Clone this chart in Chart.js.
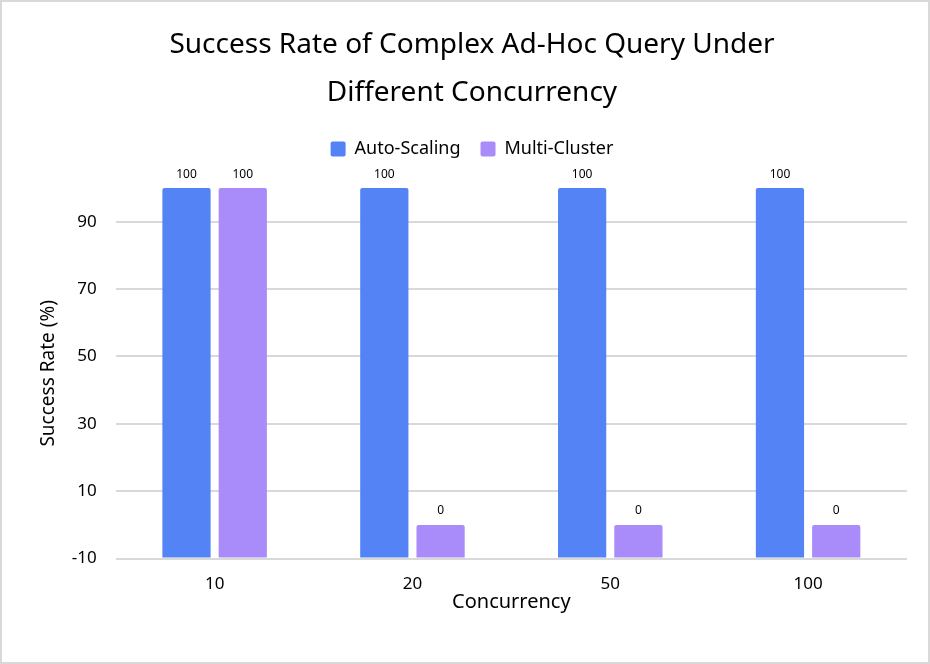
<!DOCTYPE html>
<html>
<head>
<meta charset="utf-8">
<script src="https://cdn.jsdelivr.net/npm/chart.js@4/dist/chart.umd.min.js"></script>
<style>
  html, body { margin: 0; padding: 0; background: #fff; }
  #wrap { position: absolute; left: 0; top: 0; width: 930px; height: 664px; box-sizing: border-box; border: 2px solid #d9d9d9; }
  canvas { display: block; }
</style>
</head>
<body>
<div id="wrap"><canvas id="c" width="926" height="660"></canvas></div>
<script>
const categories = ['10', '20', '50', '100'];
const autoScaling = [100, 100, 100, 100];
const multiCluster = [100, 0, 0, 0];
const seriesNames = ['Auto-Scaling', 'Multi-Cluster'];
const titleLines = ['Success Rate of Complex Ad-Hoc Query Under', 'Different Concurrency'];
const yTickValues = [-10, 10, 30, 50, 70, 90];
const yMin = -10, yMax = 100;

const FONT = '"Noto Sans", "Open Sans", sans-serif';

const labelPlugin = {
  id: 'valueLabels',
  beforeInit(chart) {
    const lg = chart.legend;
    if (lg) {
      const origFit = lg.fit;
      lg.fit = function () { origFit.call(this); this.height += 20; };
    }
  },
  afterDatasetsDraw(chart) {
    const ctx = chart.ctx;
    ctx.save();
    ctx.font = '12px ' + FONT;
    ctx.fillStyle = '#000';
    ctx.textAlign = 'center';
    ctx.textBaseline = 'bottom';
    chart.data.datasets.forEach((ds, i) => {
      chart.getDatasetMeta(i).data.forEach((bar, j) => {
        ctx.fillText(String(ds.data[j]), bar.x, bar.y - 8);
      });
    });
    ctx.restore();
  }
};

new Chart(document.getElementById('c'), {
  type: 'bar',
  data: {
    labels: categories,
    datasets: [
      { label: seriesNames[0], data: autoScaling, backgroundColor: '#5383f4', base: yMin, borderRadius: {topLeft: 2, topRight: 2}, borderSkipped: 'bottom' },
      { label: seriesNames[1], data: multiCluster, backgroundColor: '#a98cfa', base: yMin, borderRadius: {topLeft: 2, topRight: 2}, borderSkipped: 'bottom' }
    ]
  },
  options: {
    responsive: false,
    animation: false,
    layout: { padding: { left: 35, right: 21, top: 0, bottom: 48 } },
    datasets: { bar: { categoryPercentage: 0.569, barPercentage: 0.857 } },
    plugins: {
      title: {
        display: true,
        text: titleLines,
        color: '#000',
        font: { family: FONT, size: 28, weight: 'normal', lineHeight: 1.68 },
        padding: { top: 20, bottom: 4 }
      },
      legend: {
        display: true,
        labels: {
          color: '#000',
          font: { family: FONT, size: 18 },
          boxWidth: 15, boxHeight: 15,
          useBorderRadius: true, borderRadius: 2,
          padding: 20
        }
      },
      tooltip: { enabled: false }
    },
    scales: {
      x: {
        grid: { display: false },
        border: { display: false },
        ticks: { color: '#000', font: { family: FONT, size: 17 }, padding: 7 },
        title: { display: true, text: 'Concurrency', color: '#000', font: { family: FONT, size: 20 }, padding: { top: -11, bottom: 0 } }
      },
      y: {
        min: yMin, max: yMax,
        afterBuildTicks(scale) { scale.ticks = yTickValues.map(v => ({ value: v })); },
        grid: { color: '#d9d9d9', lineWidth: 2, drawTicks: false },
        border: { display: false },
        ticks: { color: '#000', font: { family: FONT, size: 17 }, padding: 19 },
        title: { display: true, text: 'Success Rate (%)', color: '#000', font: { family: FONT, size: 19 }, padding: { top: 0, bottom: -7 } }
      }
    }
  },
  plugins: [labelPlugin]
});
</script>
</body>
</html>
